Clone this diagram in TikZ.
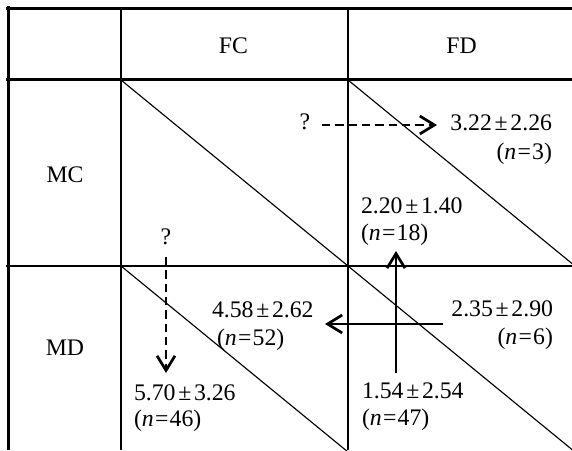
\documentclass[tikz,border=0pt]{standalone}
\usepackage{fontspec}
\setmainfont{Liberation Serif}
\usetikzlibrary{arrows.meta}
\newcommand{\pmv}[2]{#1\kern1.3pt±\kern1.3pt#2}
\newcommand{\nval}[1]{(\textit{n}\kern0.6pt=\kern0.6pt#1)}
\begin{document}
\begin{tikzpicture}[x=0.48pt,y=-0.48pt,
  font=\fontsize{11.4}{13}\selectfont,
  thickrule/.style={line width=1.7pt},
  gridrule/.style={line width=1.15pt},
  diagline/.style={line width=0.55pt},
  lbl/.style={inner sep=0pt, outer sep=0pt},
  solidarr/.style={line width=1.3pt, -{Straight Barb[length=7pt,width=8.6pt,line width=1.3pt]}},
  dasharr/.style={solidarr, dash pattern=on 4pt off 2.4pt}]
\useasboundingbox (0,0) rectangle (572,450);
\begin{scope}
\clip (0,0) rectangle (572,450);
% diagonals
\draw[diagline] (121,80) -- (348,266);
\draw[diagline] (348,80) -- (575,266);
\draw[diagline] (121,266) -- (348,452);
\draw[diagline] (348,266) -- (575,452);
% grid
\draw[thickrule] (6,8.3) -- (572,8.3);
\draw[thickrule] (8.3,6.5) -- (8.3,450);
\draw[gridrule] (6,79.5) -- (572,79.5);
\draw[gridrule] (6,266) -- (572,266);
\draw[gridrule] (121,8) -- (121,450);
\draw[gridrule] (348,8) -- (348,450);
\end{scope}
% headers
\node[lbl, anchor=base] (fc) at (233.5,54) {FC};
\node[lbl, anchor=base] (fd) at (461.5,54) {FD};
\node[lbl, anchor=base] (mc) at (65,182) {MC};
\node[lbl, anchor=base] (md) at (65,355) {MD};
% values
\node[lbl, anchor=base east] (v1) at (552,131) {\pmv{3.22}{2.26}};
\node[lbl, anchor=base east] (n1) at (552,159) {\nval{3}};
\node[lbl, anchor=base west] (v2) at (361,213) {\pmv{2.20}{1.40}};
\node[lbl, anchor=base west] (n2) at (361,240) {\nval{18}};
\node[lbl, anchor=base east] (v3) at (553,316) {\pmv{2.35}{2.90}};
\node[lbl, anchor=base east] (n3) at (553,344) {\nval{6}};
\node[lbl, anchor=base west] (v4) at (212,317) {\pmv{4.58}{2.62}};
\node[lbl, anchor=base west] (n4) at (217,345) {\nval{52}};
\node[lbl, anchor=base west] (v5) at (134,400) {\pmv{5.70}{3.26}};
\node[lbl, anchor=base west] (n5) at (134,426) {\nval{46}};
\node[lbl, anchor=base west] (v6) at (362,398) {\pmv{1.54}{2.54}};
\node[lbl, anchor=base west] (n6) at (362,425) {\nval{47}};
\node[lbl, anchor=base] (q1) at (305,129) {?};
\node[lbl, anchor=base] (q2) at (166,244) {?};
% arrow end points
\coordinate (a1s) at (322,125);
\coordinate (a1e) at (437,125);
\coordinate (a2s) at (166,257);
\coordinate (a2e) at (166,373);
\coordinate (a3s) at (396,373);
\coordinate (a3e) at (396,251);
\coordinate (a4s) at (443,324);
\coordinate (a4e) at (325,324);
\draw[dasharr] (a1s) -- (a1e);
\draw[dasharr] (a2s) -- (a2e);
\draw[solidarr] (a3s) -- (a3e);
\draw[solidarr] (a4s) -- (a4e);
\end{tikzpicture}
\end{document}
